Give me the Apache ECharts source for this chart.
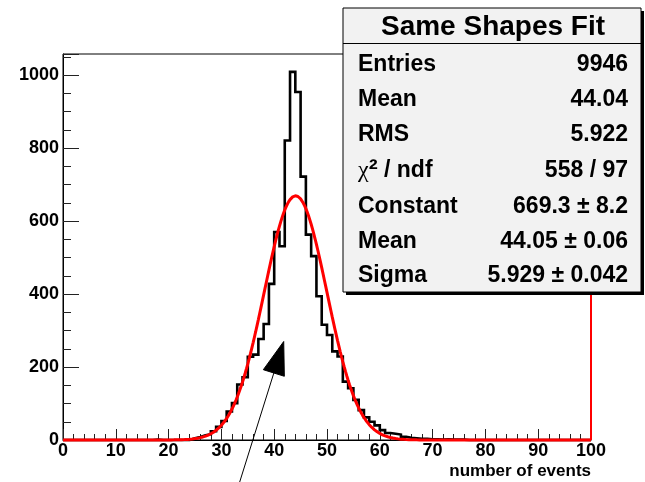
<!DOCTYPE html>
<html>
<head>
<meta charset="utf-8">
<script src="https://cdn.jsdelivr.net/npm/echarts@6/dist/echarts.min.js"></script>
<style>
  html, body { margin: 0; padding: 0; background: #fff; }
  #chart { width: 645px; height: 482px; }
</style>
</head>
<body>
<div id="chart"></div>
<script>
// Histogram: 100 bins of width 1 on [0, 100]
const binLow = 0;
const binWidth = 1;
const binCounts = [
  0, 0, 0, 0, 0, 0, 0, 0, 0, 0,
  0, 0, 0, 0, 0, 0, 0, 1, 0, 0,
  0, 0, 0, 0, 5, 8, 13, 16, 24, 36,
  52, 78, 101, 152, 172, 228, 234, 277, 318, 428,
  570, 531, 821, 1009, 954, 722, 563, 504, 394, 316,
  288, 243, 229, 160, 142, 110, 82, 62, 50, 40,
  27, 19, 17, 15, 9, 6, 5, 3, 3, 2,
  2, 1, 2, 1, 1, 1, 0, 0, 0, 0,
  0, 0, 0, 0, 0, 0, 0, 0, 0, 0,
  0, 0, 0, 0, 0, 0, 0, 0, 0, 0
];

// Fitted Gaussian parameters (as printed in the stats box)
const fitConstant = 669.3;
const fitMean = 44.05;
const fitSigma = 5.929;

// Stats box content
const statsTitle = 'Same Shapes Fit';
const statLabels = ['Entries', 'Mean', 'RMS', 'CHI2', 'Constant', 'Mean', 'Sigma'];
const statValues = ['9946', '44.04', '5.922', '558 / 97', '669.3 \u00b1 8.2', '44.05 \u00b1 0.06', '5.929 \u00b1 0.042'];

// Axis settings
const xRange = [0, 100];
const yRange = [0, 1058];
const xTitle = 'number of events';

// Annotation arrow, in data coordinates: [tail, tip]
const arrowTail = [33.4, -118];
const arrowTip = [41.8, 270];

const FONT = '"Liberation Sans", Arial, Helvetica, sans-serif';

// Step outline of the histogram
const histData = binCounts.map((v, i) => [binLow + i * binWidth, v]);
histData.push([binLow + binCounts.length * binWidth, binCounts[binCounts.length - 1]]);

// Gaussian fit function evaluated from the fitted parameters
const fitData = [];
for (let i = 0; i <= 400; i++) {
  const x = xRange[0] + (xRange[1] - xRange[0]) * i / 400;
  const z = (x - fitMean) / fitSigma;
  fitData.push([x, fitConstant * Math.exp(-0.5 * z * z)]);
}

const chart = echarts.init(document.getElementById('chart'), null, { renderer: 'canvas' });

const tickColor = '#222';
const labelStyle = { color: '#000', fontFamily: FONT, fontWeight: 'bold', fontSize: 18 };

chart.setOption({
  animation: false,
  backgroundColor: '#fff',
  grid: {
    left: 63, right: 54, top: 54, bottom: 42,
    show: true, borderColor: '#000', borderWidth: 1, backgroundColor: 'transparent'
  },
  xAxis: [
    {
      type: 'value', min: xRange[0], max: xRange[1], interval: 10,
      axisLine: { show: true, onZero: false, lineStyle: { color: '#000', width: 1 } },
      axisTick: { show: true, inside: true, length: 11, lineStyle: { color: tickColor, width: 1 } },
      axisLabel: Object.assign({ margin: 2 }, labelStyle),
      splitLine: { show: false }
    },
    {
      type: 'value', min: xRange[0], max: xRange[1], interval: 2, position: 'bottom',
      axisLine: { show: false },
      axisTick: { show: true, inside: true, length: 6, lineStyle: { color: tickColor, width: 1 } },
      axisLabel: { show: false },
      splitLine: { show: false }
    }
  ],
  yAxis: [
    {
      type: 'value', min: yRange[0], max: yRange[1], interval: 200,
      axisLine: { show: true, lineStyle: { color: '#000', width: 1 } },
      axisTick: { show: true, inside: true, length: 16, lineStyle: { color: tickColor, width: 1 } },
      axisLabel: Object.assign({
        margin: 4,
        formatter: v => (v % 200 === 0 ? String(v) : '')
      }, labelStyle),
      splitLine: { show: false }
    },
    {
      type: 'value', min: yRange[0], max: yRange[1], interval: 50, position: 'left',
      axisLine: { show: false },
      axisTick: { show: true, inside: true, length: 8, lineStyle: { color: tickColor, width: 1 } },
      axisLabel: { show: false },
      splitLine: { show: false }
    }
  ],
  series: [
    {
      name: 'histogram',
      type: 'line',
      step: 'end',
      data: histData,
      symbol: 'none',
      clip: false,
      lineStyle: { color: '#000', width: 2.6, join: 'miter' },
      z: 2
    },
    {
      name: 'fit',
      type: 'line',
      data: fitData,
      symbol: 'none',
      clip: false,
      lineStyle: { color: '#ff0000', width: 3 },
      z: 3,
      markLine: {
        silent: true,
        symbol: 'none',
        label: { show: false },
        lineStyle: { color: '#ff0000', width: 2, type: 'solid' },
        data: [{ xAxis: xRange[1] }]
      }
    }
  ]
});

// Annotation arrow and stats box
function arrowGraphic() {
  const s = chart.convertToPixel({ gridIndex: 0 }, arrowTail);
  const t = chart.convertToPixel({ gridIndex: 0 }, arrowTip);
  const dx = t[0] - s[0], dy = t[1] - s[1];
  const len = Math.sqrt(dx * dx + dy * dy);
  const ux = dx / len, uy = dy / len;
  const nx = -uy, ny = ux;
  const headLen = 33, headHalf = 11;
  const bx = t[0] - ux * headLen, by = t[1] - uy * headLen;
  return [
    {
      type: 'line', z: 50,
      shape: { x1: s[0], y1: s[1], x2: bx + ux * 4, y2: by + uy * 4 },
      style: { stroke: '#000', lineWidth: 1 }
    },
    {
      type: 'polygon', z: 51,
      shape: { points: [t, [bx + nx * headHalf, by + ny * headHalf], [bx - nx * headHalf, by - ny * headHalf]] },
      style: { fill: '#000', stroke: '#000', lineWidth: 1 }
    }
  ];
}

function statsGraphic() {
  const bx = 343, by = 8, bw = 298, bh = 284;
  const rowY = [65, 100, 135, 171, 207, 242, 276];
  const rowFont = 'bold 23px ' + FONT;
  const items = [
    { type: 'rect', z: 100, shape: { x: bx + 3, y: by + 3, width: bw, height: bh }, style: { fill: '#000' } },
    { type: 'rect', z: 101, shape: { x: bx, y: by, width: bw, height: bh }, style: { fill: '#f2f2f2', stroke: '#000', lineWidth: 1 } },
    { type: 'line', z: 102, shape: { x1: bx, y1: 43.5, x2: bx + bw, y2: 43.5 }, style: { stroke: '#000', lineWidth: 1 } },
    {
      type: 'text', z: 103, x: bx + bw / 2 + 1, y: 27,
      style: { text: statsTitle, font: 'bold 28px ' + FONT, fill: '#000', align: 'center', verticalAlign: 'middle' }
    }
  ];
  statLabels.forEach((lab, i) => {
    const label = lab === 'CHI2'
      ? {
          text: '{c|\u03c7}{s|\u00b2}{r| / ndf}',
          rich: {
            c: { font: '24px "Liberation Serif", serif', fill: '#000' },
            s: { font: 'bold 27px ' + FONT, fill: '#000' },
            r: { font: rowFont, fill: '#000' }
          }
        }
      : { text: lab, font: rowFont };
    items.push({
      type: 'text', z: 103, x: 358, y: rowY[i],
      style: Object.assign({ fill: '#000', align: 'left', verticalAlign: 'middle' }, label)
    });
    items.push({
      type: 'text', z: 103, x: 628, y: rowY[i],
      style: { text: statValues[i], font: rowFont, fill: '#000', align: 'right', verticalAlign: 'middle' }
    });
  });
  return items;
}

chart.setOption({
  graphic: [
    ...arrowGraphic(),
    ...statsGraphic(),
    {
      type: 'text', z: 20, x: 591, y: 471,
      style: { text: xTitle, font: 'bold 17px ' + FONT, fill: '#000', align: 'right', verticalAlign: 'middle' }
    }
  ]
});
</script>
</body>
</html>
